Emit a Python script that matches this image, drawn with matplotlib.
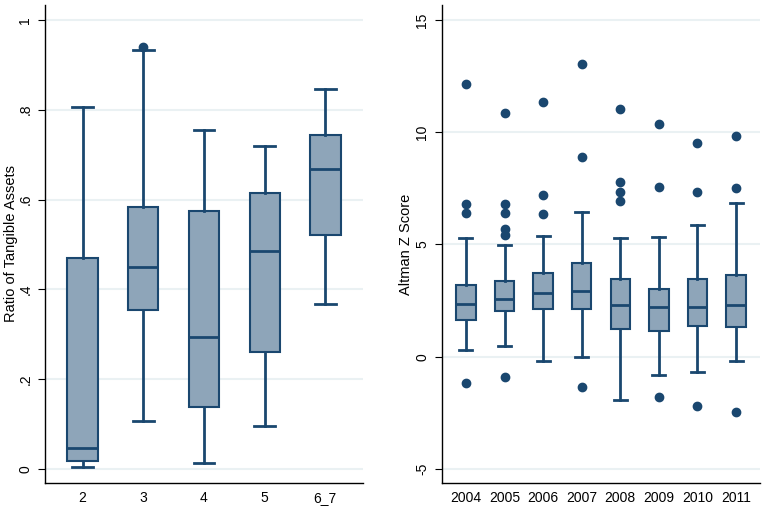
import matplotlib.pyplot as plt

plt.rcParams['font.family'] = ['Liberation Sans', 'DejaVu Sans']

# Left panel: ratio of tangible assets by group
tang_labels = ['2', '3', '4', '5', '6_7']
tang_whislo = [0.004, 0.106, 0.013, 0.095, 0.368]
tang_q1 = [0.017, 0.353, 0.139, 0.261, 0.520]
tang_med = [0.048, 0.450, 0.293, 0.485, 0.667]
tang_q3 = [0.470, 0.583, 0.574, 0.615, 0.743]
tang_whishi = [0.806, 0.932, 0.754, 0.720, 0.847]
tang_fliers = [[], [0.939], [], [], []]

# Right panel: Altman Z score by year
z_labels = ['2004', '2005', '2006', '2007', '2008', '2009', '2010', '2011']
z_whislo = [0.31, 0.46, -0.21, -0.01, -1.92, -0.83, -0.70, -0.21]
z_q1 = [1.65, 2.03, 2.11, 2.14, 1.25, 1.16, 1.38, 1.32]
z_med = [2.33, 2.55, 2.82, 2.91, 2.29, 2.20, 2.20, 2.29]
z_q3 = [3.18, 3.36, 3.71, 4.16, 3.44, 3.03, 3.44, 3.62]
z_whishi = [5.27, 4.96, 5.37, 6.43, 5.30, 5.33, 5.88, 6.83]
z_fliers = [[12.16, 6.82, 6.41, -1.19],
            [10.85, 6.79, 6.38, 5.70, 5.43, -0.89],
            [11.34, 7.19, 6.35],
            [13.02, 8.88, -1.37],
            [11.03, 7.78, 7.32, 6.95],
            [10.38, 7.54, -1.81],
            [9.50, 7.32, -2.21],
            [9.84, 7.51, -2.48]]

navy = '#1a476f'
fill = '#8ea5b9'
grid = '#eaf1f3'


def make_stats(lo, q1, med, q3, hi, fl):
    return [dict(whislo=a, q1=b, med=c, q3=d, whishi=e, fliers=f)
            for a, b, c, d, e, f in zip(lo, q1, med, q3, hi, fl)]


def draw(ax, stats, labels, ylim, yticks, yticklabels, ylabel, labelx):
    pos = list(range(1, len(stats) + 1))
    ax.bxp(stats, positions=pos, widths=0.5, patch_artist=True,
           showfliers=True, capwidths=0.34,
           boxprops=dict(facecolor=fill, edgecolor=navy, linewidth=1.5),
           medianprops=dict(color=navy, linewidth=2),
           whiskerprops=dict(color=navy, linewidth=2),
           capprops=dict(color=navy, linewidth=2),
           flierprops=dict(marker='o', markerfacecolor=navy,
                           markeredgecolor=navy, markersize=6))
    ax.set_xlim(pos[0] - 0.62, pos[-1] + 0.62)
    ax.set_ylim(*ylim)
    ax.set_xticks(pos)
    ax.set_xticklabels(labels, fontsize=10)
    ax.tick_params(axis='x', length=0, pad=6)
    ax.set_yticks(yticks)
    ax.set_yticklabels(yticklabels, fontsize=10, rotation=90, va='center')
    ax.tick_params(axis='y', length=5, width=0.8, pad=4)
    ax.yaxis.grid(True, color=grid, linewidth=1.5)
    ax.set_axisbelow(True)
    for s in ['top', 'right']:
        ax.spines[s].set_visible(False)
    ax.spines['left'].set_linewidth(1)
    ax.spines['bottom'].set_linewidth(1)
    ax.set_ylabel(ylabel, fontsize=10.5)
    ax.yaxis.set_label_coords(labelx, 0.5)


fig = plt.figure(figsize=(7.65, 5.09), dpi=100)
ax1 = fig.add_axes([45 / 765, 26 / 509, 318 / 765, 478 / 509])
ax2 = fig.add_axes([442 / 765, 26 / 509, 318 / 765, 478 / 509])

draw(ax1, make_stats(tang_whislo, tang_q1, tang_med, tang_q3, tang_whishi, tang_fliers),
     tang_labels, (-0.031, 1.033), [0, 0.2, 0.4, 0.6, 0.8, 1],
     ['0', '.2', '.4', '.6', '.8', '1'], 'Ratio of Tangible Assets', -0.085)
draw(ax2, make_stats(z_whislo, z_q1, z_med, z_q3, z_whishi, z_fliers),
     z_labels, (-5.63, 15.67), [-5, 0, 5, 10, 15],
     ['-5', '0', '5', '10', '15'], 'Altman Z Score', -0.091)

fig.savefig('out.png', dpi=100)
